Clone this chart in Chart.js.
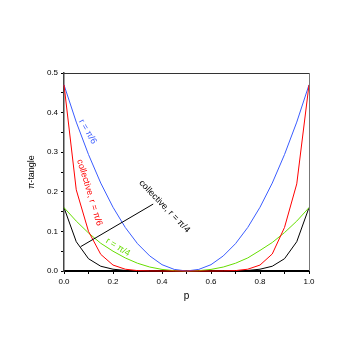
<!DOCTYPE html>
<html>
<head>
<meta charset="utf-8">
<script src="https://cdn.jsdelivr.net/npm/chart.js@4/dist/chart.umd.min.js"></script>
<style>
  html, body { margin: 0; padding: 0; background: #fff; }
  #wrap { width: 360px; height: 360px; }
</style>
</head>
<body>
<div id="wrap"><canvas id="piChart" width="360" height="360"></canvas></div>
<script>
// p values, step 0.05
const pValues = [0, 0.05, 0.1, 0.15, 0.2, 0.25, 0.3, 0.35, 0.4, 0.45, 0.5,
                 0.55, 0.6, 0.65, 0.7, 0.75, 0.8, 0.85, 0.9, 0.95, 1];

const collectivePi6 = [0.47, 0.205, 0.1, 0.042, 0.015, 0.0045, 0.001, 0.0002, 0, 0, 0,
                       0, 0, 0.0002, 0.001, 0.0045, 0.015, 0.043, 0.11, 0.22, 0.47];
const rPi6 = [0.47, 0.376, 0.294, 0.222, 0.161, 0.11, 0.069, 0.038, 0.016, 0.004, 0,
              0.004, 0.016, 0.038, 0.069, 0.11, 0.161, 0.222, 0.294, 0.376, 0.47];
const rPi4 = [0.16, 0.126, 0.096, 0.07, 0.05, 0.033, 0.0196, 0.01, 0.004, 0.0008, 0,
              0.0008, 0.004, 0.01, 0.0196, 0.033, 0.052, 0.072, 0.097, 0.126, 0.16];
const collectivePi4 = [0.16, 0.074, 0.031, 0.012, 0.0045, 0.0014, 0.0004, 0.0001, 0, 0, 0,
                       0, 0, 0.0001, 0.0004, 0.0014, 0.0045, 0.012, 0.031, 0.074, 0.16];

// text labels placed in data units: [p, value, angle in degrees]
const labels = [
  { text: 'r = \u03c0/6', color: '#3a5cff', at: [0.097, 0.352, 60] },
  { text: 'collective, r = \u03c0/6', color: '#ff0000', at: [0.104, 0.198, 73] },
  { text: 'collective, r = \u03c0/4', color: '#000000', at: [0.41, 0.163, 46] },
  { text: 'r = \u03c0/4', color: '#66dd00', at: [0.22, 0.06, 32] }
];
const pointer = [[0.068, 0.0615], [0.364, 0.169]];

const toXY = arr => pValues.map((p, i) => ({ x: p, y: arr[i] }));

const extras = {
  id: 'extras',
  afterDatasetsDraw(chart) {
    const { ctx, chartArea: a, scales: { x, y } } = chart;
    ctx.save();
    // frame top + right
    ctx.lineWidth = 1;
    ctx.strokeStyle = '#333';
    ctx.beginPath();
    ctx.moveTo(a.left, a.top + 0.5);
    ctx.lineTo(a.right + 0.5, a.top + 0.5);
    ctx.stroke();
    ctx.strokeStyle = '#777';
    ctx.beginPath();
    ctx.moveTo(a.right + 0.5, a.top);
    ctx.lineTo(a.right + 0.5, a.bottom);
    ctx.stroke();

    // pointer line
    ctx.strokeStyle = '#000';
    ctx.beginPath();
    ctx.moveTo(x.getPixelForValue(pointer[0][0]), y.getPixelForValue(pointer[0][1]));
    ctx.lineTo(x.getPixelForValue(pointer[1][0]), y.getPixelForValue(pointer[1][1]));
    ctx.stroke();

    ctx.font = '9px "Liberation Sans", Arial, sans-serif';
    ctx.textAlign = 'center';
    ctx.textBaseline = 'middle';
    labels.forEach(l => {
      ctx.save();
      ctx.translate(x.getPixelForValue(l.at[0]), y.getPixelForValue(l.at[1]));
      ctx.rotate(l.at[2] * Math.PI / 180);
      ctx.fillStyle = l.color;
      ctx.fillText(l.text, 0, 0);
      ctx.restore();
    });
    ctx.restore();
  }
};

Chart.defaults.font.family = '"Liberation Sans", Arial, sans-serif';
Chart.defaults.color = '#000';

new Chart(document.getElementById('piChart'), {
  type: 'line',
  data: {
    datasets: [
      { label: 'collective, r = \u03c0/6', data: toXY(collectivePi6), borderColor: '#ff0000' },
      { label: 'r = \u03c0/6', data: toXY(rPi6), borderColor: '#3a5cff' },
      { label: 'r = \u03c0/4', data: toXY(rPi4), borderColor: '#66dd00' },
      { label: 'collective, r = \u03c0/4', data: toXY(collectivePi4), borderColor: '#000000' }
    ]
  },
  options: {
    responsive: false,
    animation: false,
    events: [],
    layout: { padding: { left: 22, right: 51, top: 73, bottom: 54 } },
    elements: {
      line: { borderWidth: 1, tension: 0, fill: false },
      point: { radius: 0 }
    },
    datasets: { line: { clip: 4 } },
    plugins: { legend: { display: false }, tooltip: { enabled: false } },
    scales: {
      x: {
        type: 'linear',
        min: 0, max: 1,
        afterFit: s => { s.height = 35; },
        border: { color: '#000', width: 2 },
        grid: { drawOnChartArea: false, tickLength: 3, tickColor: '#000' },
        ticks: {
          stepSize: 0.1, autoSkip: false, maxRotation: 0, padding: 3,
          font: { size: 8 },
          callback: v => (Math.round(v * 10) % 2 === 0 ? v.toFixed(1) : '')
        },
        title: { display: true, text: 'p', font: { size: 10 } }
      },
      y: {
        min: 0, max: 0.5,
        afterFit: s => { s.width = 42; },
        border: { color: '#444', width: 1.5 },
        grid: { drawOnChartArea: false, tickLength: 3, tickColor: '#000' },
        ticks: {
          stepSize: 0.05, autoSkip: false, padding: 3,
          font: { size: 8 },
          callback: v => (Math.round(v * 20) % 2 === 0 ? v.toFixed(1) : '')
        },
        title: { display: true, text: '\u03c0-tangle', font: { size: 9 } }
      }
    }
  },
  plugins: [extras]
});
</script>
</body>
</html>
